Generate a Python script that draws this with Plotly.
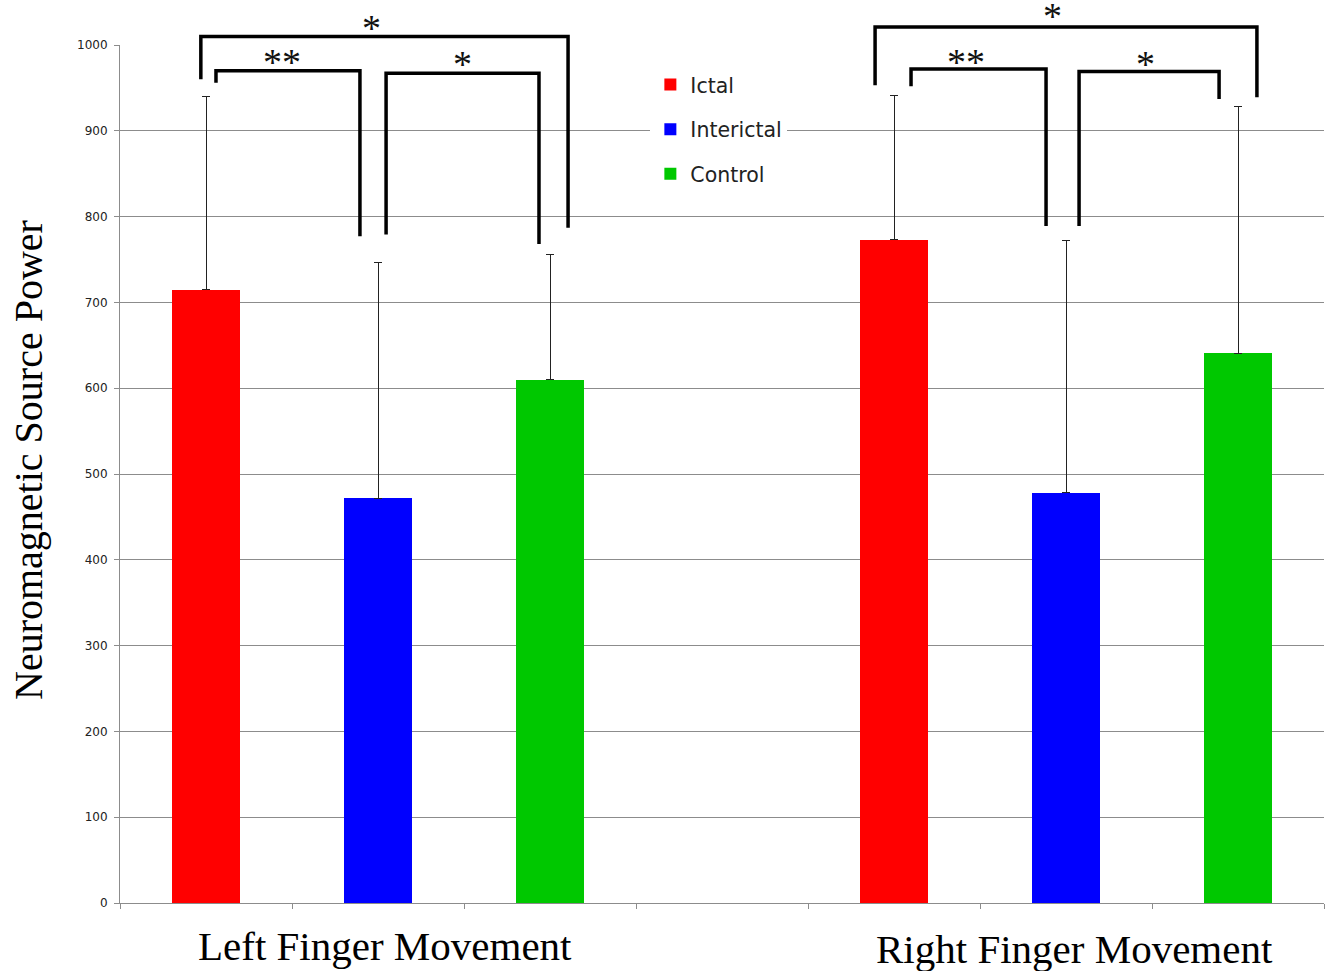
import plotly.graph_objects as go

# Group / condition layout: each finger-movement group has three conditions,
# with an empty slot between the two groups.
groups = ["Left Finger Movement", "Right Finger Movement"]
conditions = ["Ictal", "Interictal", "Control"]
colors = ["#FF0000", "#0000FF", "#00C800"]

# slot index of each bar along the x axis (group 0 -> 0..2, group 1 -> 4..6)
slots = {"Ictal": [0, 4], "Interictal": [1, 5], "Control": [2, 6]}

# mean source power per condition: [left, right]
mean_ictal = [715, 773]
mean_interictal = [472, 478]
mean_control = [610, 641]

# standard deviation (upper error bar)
sd_ictal = [225, 168]
sd_interictal = [274, 294]
sd_control = [146, 287]

means = [mean_ictal, mean_interictal, mean_control]
sds = [sd_ictal, sd_interictal, sd_control]

# significance brackets: (x_left, x_right, y_top, y_left_foot, y_right_foot, label, label_x, label_y)
brackets = [
    (-0.03, 2.105, 1010, 960, 787, "*", 0.96, 1020),
    (0.058, 0.895, 970, 956, 777, "**", 0.44, 980),
    (1.047, 1.936, 967, 779, 768, "*", 1.49, 978),
    (3.89, 6.11, 1021, 953, 939, "*", 4.92, 1034),
    (4.099, 4.884, 972, 952, 789, "**", 4.42, 980),
    (5.076, 5.89, 969, 789, 937, "*", 5.465, 978),
]

YMAX = 1000
GRID = "#8C8C8C"

fig = go.Figure()
for i, cond in enumerate(conditions):
    fig.add_trace(go.Bar(
        x=slots[cond], y=means[i], name=cond,
        marker=dict(color=colors[i], line=dict(width=0)),
        width=0.4, legendgroup=cond,
        error_y=dict(type="data", array=sds[i], arrayminus=[0, 0], symmetric=False,
                     color="#222222", thickness=1, width=4),
    ))

shapes = []
annotations = []
for xl, xr, yt, yl, yr, lab, lx, ly in brackets:
    path = (f"M {xl},{yl / YMAX} L {xl},{yt / YMAX} L {xr},{yt / YMAX} L {xr},{yr / YMAX}")
    shapes.append(dict(type="path", xref="x", yref="paper", path=path,
                       line=dict(color="black", width=3.5), layer="above"))
    annotations.append(dict(x=lx, y=ly / YMAX, xref="x", yref="paper", text=lab,
                            showarrow=False, yanchor="middle", height=30, valign="middle",
                            font=dict(family="Liberation Serif", size=38, color="#111111")))

# group labels under the x axis
for name, cx, cy in zip(groups, [1.04, 5.05], [-0.05, -0.054]):
    annotations.append(dict(x=cx, y=cy, xref="x", yref="paper", text=name,
                            showarrow=False, yanchor="middle",
                            font=dict(family="Liberation Serif", size=41, color="black")))

# y axis title
annotations.append(dict(xref="paper", yref="paper",
                        x=(28 - 120) / 1204, y=(903 - 460) / 858,
                        xanchor="center", yanchor="middle",
                        text="Neuromagnetic Source Power",
                        showarrow=False, textangle=-90,
                        font=dict(family="Liberation Serif", size=40, color="black")))

fig.update_layout(
    width=1325, height=971,
    margin=dict(l=120, r=1, t=45, b=68),
    plot_bgcolor="white", paper_bgcolor="white",
    barmode="overlay", bargap=0,
    showlegend=True,
    legend=dict(x=0.4405, y=0.977, xanchor="left", yanchor="top",
                bgcolor="white", borderwidth=0, tracegroupgap=15,
                font=dict(family="DejaVu Sans", size=20.5, color="#222222")),
    xaxis=dict(range=[-0.5, 6.5], tickvals=[v - 0.5 for v in range(8)],
               showticklabels=False, ticks="outside", ticklen=5, tickcolor=GRID,
               showline=True, linecolor=GRID, linewidth=1, showgrid=False, zeroline=False),
    yaxis=dict(range=[0, YMAX], dtick=100, ticks="outside", ticklen=5, tickcolor=GRID,
               showline=True, linecolor=GRID, linewidth=1, showgrid=True, gridcolor=GRID,
               gridwidth=1, zeroline=False, ticklabelstandoff=4,
               tickfont=dict(family="DejaVu Sans", size=12, color="#222222")),
    shapes=shapes,
    annotations=annotations,
)

fig.write_html("out.html")
